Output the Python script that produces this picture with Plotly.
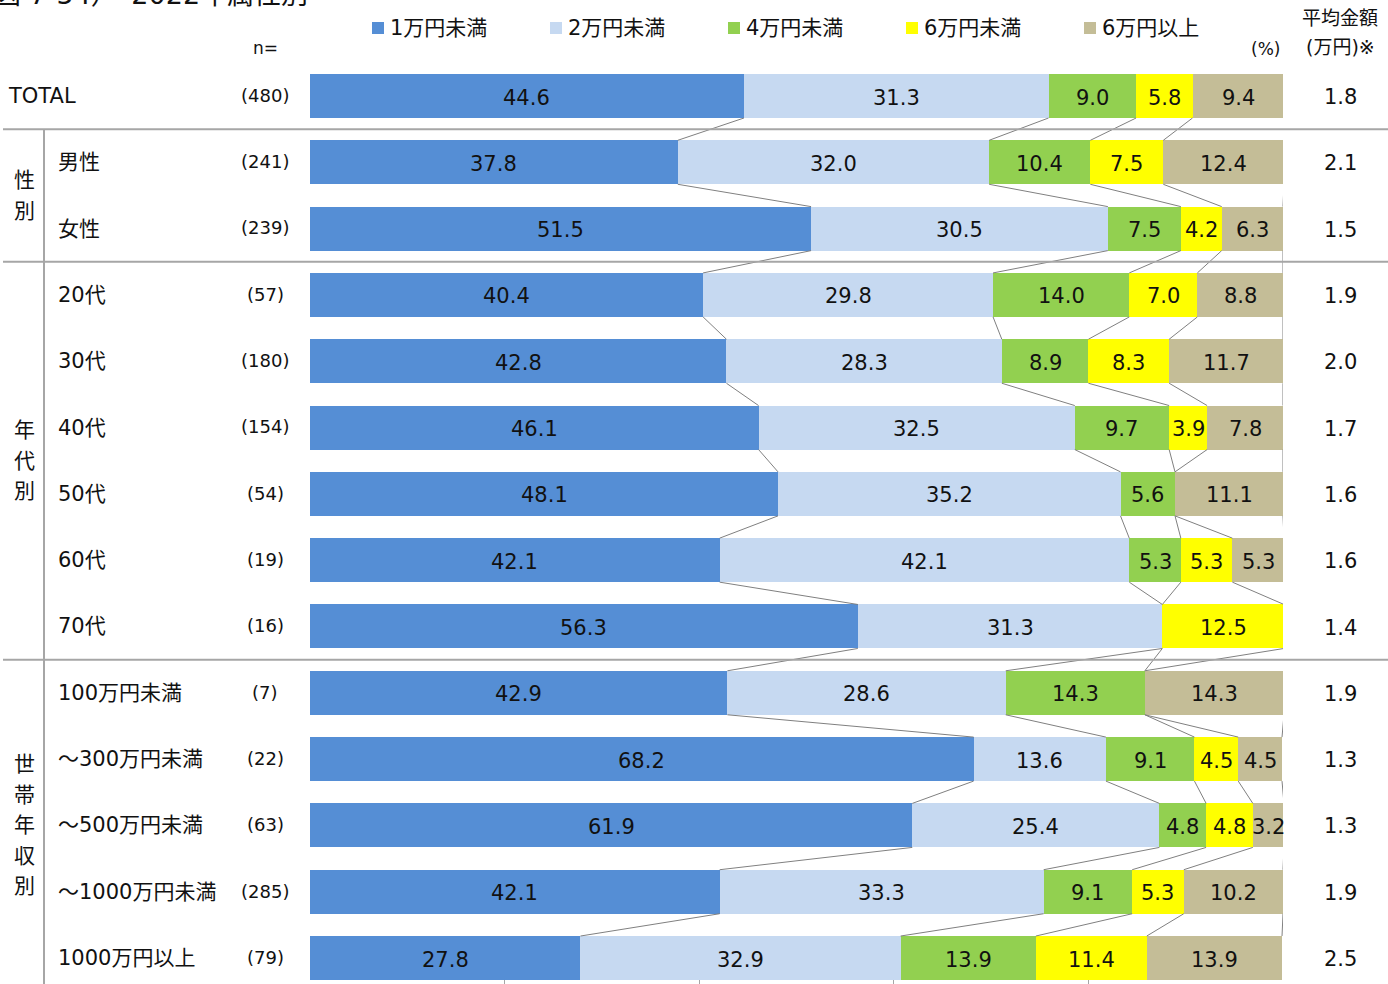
import plotly.graph_objects as go

# ---- data -------------------------------------------------------------
rows = ["TOTAL", "男性", "女性", "20代", "30代", "40代", "50代", "60代", "70代",
        "100万円未満", "～300万円未満", "～500万円未満", "～1000万円未満", "1000万円以上"]
n_counts = [480, 241, 239, 57, 180, 154, 54, 19, 16, 7, 22, 63, 285, 79]
avg_amount = [1.8, 2.1, 1.5, 1.9, 2.0, 1.7, 1.6, 1.6, 1.4, 1.9, 1.3, 1.3, 1.9, 2.5]

series_names = ["1万円未満", "2万円未満", "4万円未満", "6万円未満", "6万円以上"]
under_1 = [44.6, 37.8, 51.5, 40.4, 42.8, 46.1, 48.1, 42.1, 56.3, 42.9, 68.2, 61.9, 42.1, 27.8]
under_2 = [31.3, 32.0, 30.5, 29.8, 28.3, 32.5, 35.2, 42.1, 31.3, 28.6, 13.6, 25.4, 33.3, 32.9]
under_4 = [9.0, 10.4, 7.5, 14.0, 8.9, 9.7, 5.6, 5.3, 0.0, 14.3, 9.1, 4.8, 9.1, 13.9]
under_6 = [5.8, 7.5, 4.2, 7.0, 8.3, 3.9, 0.0, 5.3, 12.5, 0.0, 4.5, 4.8, 5.3, 11.4]
over_6 = [9.4, 12.4, 6.3, 8.8, 11.7, 7.8, 11.1, 5.3, 0.0, 14.3, 4.5, 3.2, 10.2, 13.9]
series_values = [under_1, under_2, under_4, under_6, over_6]

groups = [("性別", 1, 2), ("年代別", 3, 8), ("世帯年収別", 9, 13)]
separators_after = [0, 2, 8]

colors = ["#558ED5", "#C6D9F1", "#92D050", "#FFFF00", "#C4BD97"]

# ---- geometry ---------------------------------------------------------
W, H = 1388, 984
ROW0, STEP = 96, 66.31          # pixel centre of first row and row pitch
BAR_W = 44 / STEP               # bar thickness in row units
X0, X1 = 310, 1283              # pixel extent of the 0-100 % axis
DY = 1.5 / STEP                 # small downward nudge for row texts

FONT = "DejaVu Sans, Noto Sans CJK JP, sans-serif"
TXT = "#111111"


def px(x):
    return x / W


def py(y):
    return 1 - y / H


y_idx = list(range(len(rows)))

fig = go.Figure()
for name, vals, col in zip(series_names, series_values, colors):
    fig.add_trace(go.Bar(
        y=y_idx, x=vals, name=name, orientation="h",
        marker=dict(color=col, line=dict(width=0)),
        width=BAR_W, showlegend=False, hoverinfo="x+name",
    ))

annotations = []
shapes = []

# value labels centred in each segment
for i in y_idx:
    cum = 0.0
    for vals in series_values:
        v = vals[i]
        if v > 0:
            annotations.append(dict(
                x=cum + v / 2, y=i + DY, xref="x", yref="y", text=f"{v:.1f}",
                showarrow=False, font=dict(size=21, color=TXT, family=FONT),
                xanchor="center", yanchor="middle"))
        cum += v

# connector lines between the cumulative boundaries of adjacent rows
def cumulative(i):
    out, c = [], 0.0
    for vals in series_values:
        c += vals[i]
        out.append(c)
    return out

for i in range(len(rows) - 1):
    a, b = cumulative(i), cumulative(i + 1)
    for ca, cb in zip(a, b):
        shapes.append(dict(type="line", xref="x", yref="y",
                           x0=ca, y0=i + BAR_W / 2, x1=cb, y1=i + 1 - BAR_W / 2,
                           line=dict(color="#808080", width=1)))

# group separators
for s in separators_after:
    shapes.append(dict(type="line", xref="paper", yref="y",
                       x0=px(3), x1=1, y0=s + 0.5, y1=s + 0.5,
                       line=dict(color="#A6A6A6", width=2)))
shapes.append(dict(type="line", xref="paper", yref="y",
                   x0=px(44), x1=px(44), y0=0.5, y1=len(rows) - 0.3,
                   line=dict(color="#A6A6A6", width=2)))

# row labels, sample sizes and averages
for i, lab in enumerate(rows):
    annotations.append(dict(
        x=px(6 if i == 0 else 56), y=i, xref="paper", yref="y", text=lab,
        showarrow=False, xanchor="left", yanchor="middle",
        font=dict(size=21, color=TXT, family=FONT)))
    annotations.append(dict(
        x=px(265), y=i - 0.01, xref="paper", yref="y", text=f"({n_counts[i]})",
        showarrow=False, xanchor="center", yanchor="middle",
        font=dict(size=18, color=TXT, family=FONT)))
    annotations.append(dict(
        x=px(1340), y=i + DY * 0.7, xref="paper", yref="y", text=f"{avg_amount[i]:.1f}",
        showarrow=False, xanchor="center", yanchor="middle",
        font=dict(size=21, color=TXT, family=FONT)))

# vertical group labels, one character per line
for label, r0, r1 in groups:
    centre = (r0 + r1) / 2
    k = len(label)
    for j, ch in enumerate(label):
        off = (j - (k - 1) / 2) * 30.5 / STEP
        annotations.append(dict(
            x=px(24), y=centre + off, xref="paper", yref="y", text=ch,
            showarrow=False, xanchor="center", yanchor="middle",
            font=dict(size=21, color=TXT, family=FONT)))

# legend row
for k, (name, col) in enumerate(zip(series_names, colors)):
    lx = 372 + k * 178
    shapes.append(dict(type="rect", xref="paper", yref="paper",
                       x0=px(lx), x1=px(lx + 12), y0=py(34), y1=py(22),
                       fillcolor=col, line=dict(width=0)))
    annotations.append(dict(
        x=px(lx + 16), y=py(28), xref="paper", yref="paper", text=name,
        showarrow=False, xanchor="left", yanchor="middle",
        font=dict(size=21, color=TXT, family=FONT)))

# header texts
header = [
    ("n=", 265, 48, 17, "center"),
    ("(%)", 1265, 49, 17, "center"),
    ("平均金額", 1340, 18, 19, "center"),
    ("(万円)※", 1340, 47, 19, "center"),
]
for text, x, y, size, anchor in header:
    annotations.append(dict(
        x=px(x), y=py(y), xref="paper", yref="paper", text=text,
        showarrow=False, xanchor=anchor, yanchor="middle",
        font=dict(size=size, color=TXT, family=FONT)))

# chart title, running off the top edge of the page
annotations.append(dict(
    x=px(-8), y=py(-5), xref="paper", yref="paper",
    text="図 7-54）　2022年属性別", showarrow=False,
    xanchor="left", yanchor="middle",
    font=dict(size=27, color=TXT, family=FONT)))

fig.update_layout(
    width=W, height=H,
    margin=dict(l=0, r=0, t=0, b=0),
    paper_bgcolor="white", plot_bgcolor="white",
    barmode="stack", bargap=0,
    xaxis=dict(domain=[px(X0), px(X1)], range=[0, 100], dtick=20,
               showgrid=False, zeroline=False, showticklabels=False,
               ticks="inside", ticklen=4, tickcolor="#A6A6A6",
               showline=True, linecolor="#A6A6A6", linewidth=1, fixedrange=True),
    yaxis=dict(domain=[0, 1], range=[(H - ROW0) / STEP, -ROW0 / STEP],
               showgrid=False, zeroline=False, showticklabels=False,
               ticks="", fixedrange=True),
    shapes=shapes,
    annotations=annotations,
    showlegend=False,
)

fig.write_html("out.html")
